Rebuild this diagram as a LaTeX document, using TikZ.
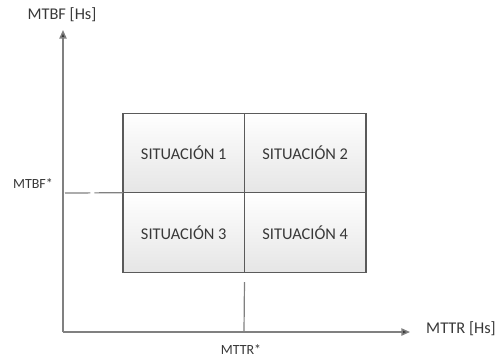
\documentclass[tikz,border=0pt]{standalone}
\usepackage{fontspec}
\setmainfont{Carlito}
\usetikzlibrary{arrows.meta,positioning}
\definecolor{txt}{HTML}{383838}
\definecolor{axisgray}{HTML}{808080}
\definecolor{boxline}{HTML}{5A5A5A}
\tikzset{
  cell/.style={draw=boxline, line width=0.9pt, top color=white, bottom color=black!10,
    minimum width=91.1pt, minimum height=59.6pt, inner sep=0pt, outer sep=0pt,
    text=txt, font=\fontsize{12.3}{14}\selectfont},
  axisline/.style={draw=axisgray, line width=1.1pt},
  axisarrow/.style={axisline, -{Triangle[length=6.5pt,width=5.5pt,fill=txt]}},
  guide/.style={draw=axisgray, line width=0.9pt},
  axislabel/.style={text=txt, font=\fontsize{12.3}{14}\selectfont, inner sep=0pt},
  ticklabel/.style={text=txt, font=\fontsize{10.5}{12}\selectfont, inner sep=0pt}
}
\begin{document}
\begin{tikzpicture}[x=0.75pt,y=-0.75pt]
\useasboundingbox (0,0) rectangle (496,358);
% axes
\coordinate (origin) at (63,332);
\coordinate (ytop) at (63,30);
\coordinate (xend) at (410,332);
\coordinate (mtbf) at (63,193);
\coordinate (mttr) at (244,332);
\draw[axisarrow] (origin) -- (ytop);
\draw[axisarrow] (origin) -- (xend);
% quadrant cells
\node[cell] (c1) at (183.75,153) {SITUACIÓN 1};
\node[cell, right=0pt of c1] (c2) {SITUACIÓN 2};
\node[cell, below=0pt of c1] (c3) {SITUACIÓN 3};
\node[cell, below=0pt of c2] (c4) {SITUACIÓN 4};
% reference lines
\draw[guide, dash pattern=on 19pt off 3pt on 18pt off 0pt] ([xshift=1.5pt]mtbf) -- (c3.north west);
\draw[guide] ([yshift=-7.5pt]c3.south east) -- (mttr);
% labels
\node[axislabel] (ylab) at (62,15) {MTBF [Hs]};
\node[axislabel] (xlab) at (461,329) {MTTR [Hs]};
\node[ticklabel] (mtbflab) at (33,184) {MTBF*};
\node[ticklabel] (mttrlab) at (241,350) {MTTR*};
\end{tikzpicture}
\end{document}
